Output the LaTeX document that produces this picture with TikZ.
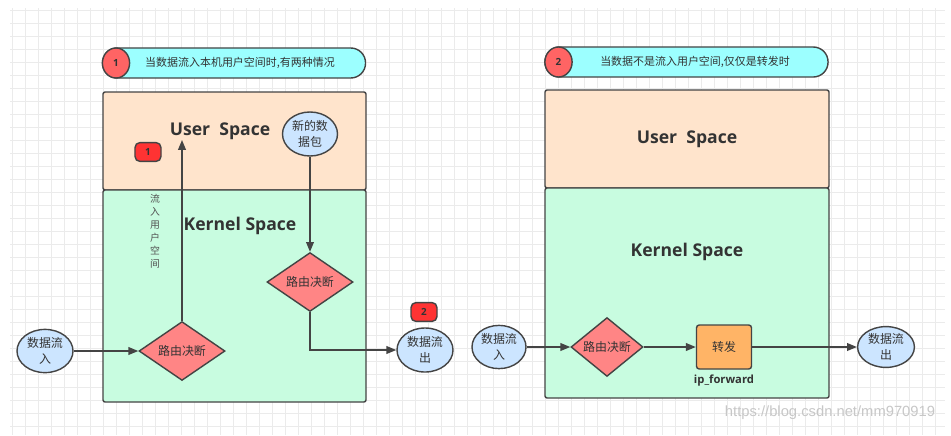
\documentclass[tikz,border=0pt]{standalone}
\usepackage{fontspec}
\setmainfont{Open Sans}
\newfontfamily\cjk{Noto Sans CJK SC}
\newfontfamily\markfont{Liberation Sans}
\usepackage{tikz}
\usetikzlibrary{arrows.meta}
\usetikzlibrary{calc}
\usetikzlibrary{shapes.geometric, arrows}

\definecolor{linegray}{HTML}{444444}
\definecolor{textgray}{HTML}{333333}
\definecolor{gridgray}{HTML}{EBEBEB}
\definecolor{userfill}{HTML}{FFE4CC}
\definecolor{kernelfill}{HTML}{C8FCE0}
\definecolor{pillcyan}{HTML}{9CFFFF}
\definecolor{dotred}{HTML}{FF6464}
\definecolor{badgered}{HTML}{FF3333}
\definecolor{ballblue}{HTML}{CCE5FF}
\definecolor{diamondred}{HTML}{FF8585}
\definecolor{forwardorange}{HTML}{FFB466}

\tikzset{
  flowline/.style={draw=linegray, line width=1pt},
  flowarrow/.style={flowline, -{Triangle[length=7pt,width=5.5pt]}},
  userbox/.style={draw=linegray, line width=1pt, fill=userfill, rounded corners=1.5pt},
  kernelbox/.style={draw=linegray, line width=1pt, fill=kernelfill, rounded corners=1.5pt},
  titlepill/.style={draw=linegray, line width=1pt, fill=pillcyan, rounded corners=0.37cm,
    minimum height=0.75cm, inner sep=0pt},
  titletext/.style={font=\cjk\fontsize{7.8}{9}\selectfont, text=textgray},
  numdot/.style={ellipse, draw=linegray, line width=1pt, fill=dotred, minimum width=0.68cm,
    minimum height=0.75cm, inner sep=0pt, font=\bfseries\fontsize{7}{8}\selectfont, text=textgray},
  databall/.style={ellipse, draw=linegray, line width=1pt, fill=ballblue, minimum width=1.4cm,
    minimum height=1.08cm, inner sep=0pt, align=center, text=textgray,
    font=\cjk\fontsize{8.5}{11}\selectfont},
  routediamond/.style={diamond, draw=linegray, line width=1pt, fill=diamondred, minimum width=2.15cm,
    minimum height=1.37cm, inner sep=0pt, text=textgray, font=\cjk\fontsize{8.5}{10}\selectfont},
  forwardbox/.style={rectangle, rounded corners=2pt, draw=linegray, line width=1pt, fill=forwardorange,
    minimum width=1.375cm, minimum height=1.1cm, text=textgray, font=\cjk\fontsize{8.5}{10}\selectfont},
  badge/.style={rectangle, rounded corners=3.5pt, draw=linegray, line width=1pt, fill=badgered,
    minimum width=0.65cm, minimum height=0.47cm, inner sep=0pt, text=textgray,
    font=\bfseries\fontsize{7}{8}\selectfont},
  spacelabel/.style={font=\bfseries\fontsize{12.5}{15}\selectfont, text=textgray},
}

\begin{document}
\begin{tikzpicture}[x=0.025cm, y=-0.025cm]
        \newcommand{\figpanelaleft}{103}
        \newcommand{\figpanelaright}{366}
        \newcommand{\figpanelbleft}{545}
        \newcommand{\figpanelbright}{829}
        % background and grid
        \fill[white] (0,0) rectangle (951,435);
        \useasboundingbox (0,0) rectangle (951,435);
        \foreach \gx in {12,25,...,945}
          \draw[gridgray, line width=0.5pt] (\gx,8) -- (\gx,435);
        \foreach \gy in {10,23,...,435}
          \draw[gridgray, line width=0.5pt] (10,\gy) -- (945,\gy);

        % panel 1: data goes into user space
        \node[titlepill, minimum width=6.575cm] (titlea) at (234,63) {};
        \node[numdot] (dota) at (116,63) {1};
        \node[titletext] (titleatext) at (240,63) {当数据流入本机用户空间时,有两种情况};
        \draw[userbox] (\figpanelaleft,92) rectangle (\figpanelaright,190);
        \draw[kernelbox] (\figpanelaleft,190) rectangle (\figpanelaright,402);
        \node[spacelabel] (usera) at (220,131) {User\ \ Space};
        \node[spacelabel] (kernela) at (240,226) {Kernel Space};
        \node[databall, minimum width=1.375cm, minimum height=1.1cm] (newpkt) at (310,134) {新的数\\据包};
        \node[badge] (badgea) at (148,152) {1};
        \node[align=center, text=textgray!85, font=\cjk\fontsize{7}{9.3}\selectfont] (upath) at (155,231)
          {流\\入\\用\\户\\空\\间};
        \node[routediamond] (routeb) at (310,282) {路由决断};
        \node[routediamond] (routea) at (182,351) {路由决断};
        \node[databall] (ina) at (45,351) {数据流\\入};
        \node[databall, minimum height=1.1cm] (outa) at (425,350) {数据流\\出};
        \node[badge] (badgeb) at (424,312) {2};
        \coordinate (userin) at (182,140);
        \draw[flowarrow] (ina) -- (routea);
        \draw[flowarrow] (routea.north) -- (userin);
        \draw[flowarrow] (newpkt.south) -- (routeb.north);
        \draw[flowarrow] (routeb.south) |- (outa.west);

        % panel 2: data is only forwarded
        \node[titlepill, minimum width=7.075cm] (titleb) at (686.5,62) {};
        \node[numdot] (dotb) at (558.5,62) {2};
        \node[titletext] (titlebtext) at (695,62) {当数据不是流入用户空间,仅仅是转发时};
        \draw[userbox] (\figpanelbleft,90) rectangle (\figpanelbright,188);
        \draw[kernelbox] (\figpanelbleft,188) rectangle (\figpanelbright,398);
        \node[spacelabel] (userb) at (687,139) {User\ \ Space};
        \node[spacelabel] (kernelb) at (687,252) {Kernel Space};
        \node[databall, minimum width=1.35cm] (inb) at (499,347) {数据流\\入};
        \node[routediamond, minimum width=1.8cm] (routec) at (607,347) {路由决断};
        \node[forwardbox] (fwd) at (724,347) {转发};
        \node[text=textgray, font=\bfseries\fontsize{8}{10}\selectfont] (fwdname) at (724,381) {ip\_forward};
        \node[databall, minimum width=1.42cm, minimum height=1.02cm] (outb) at (886,347) {数据流\\出};
        \draw[flowarrow] (inb) -- (routec);
        \draw[flowarrow] (routec) -- (fwd);
        \draw[flowarrow] (fwd) -- (outb);

        \node[text=black!22, font=\markfont\fontsize{10.5}{12}\selectfont] (watermark) at (830,413)
          {https://blog.csdn.net/mm970919};
\end{tikzpicture}
\end{document}
